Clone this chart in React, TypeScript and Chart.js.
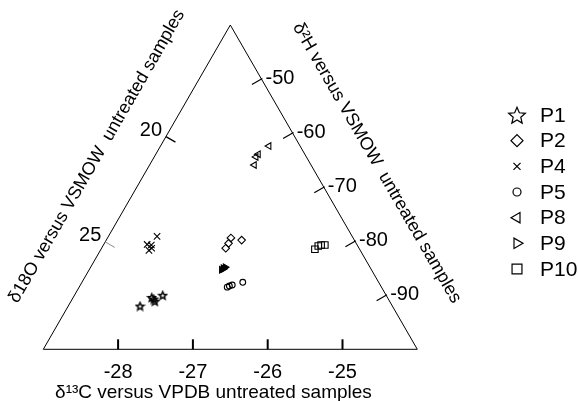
import React, { useEffect, useRef } from 'react';
import { Chart, registerables } from 'chart.js';
import { drawPoint } from 'chart.js/helpers';

Chart.register(...registerables);

// ---- axis ranges & ticks ----
const C13_MIN = -29; // bottom-left vertex
const C13_MAX = -24; // bottom-right vertex
const H2_MIN = -100; // bottom-right vertex
const H2_MAX = -40; // apex
const O18_TOP = 14.7; // apex
const O18_BOTTOM = 30.1; // bottom-left vertex
const C13_TICKS = [-28, -27, -26, -25];
const H2_TICKS = [-50, -60, -70, -80, -90];
const O18_TICKS = [20, 25];

const TITLE_C13 = 'δ¹³C versus VPDB untreated samples';
const TITLE_O18 = 'δ18O versus VSMOW  untreated samples';
const TITLE_H2 = 'δ²H versus VSMOW  untreated samples';

// ---- data (δ13C, δ2H) per sample group ----
const SERIES_NAMES = ['P1', 'P2', 'P4', 'P5', 'P8', 'P9', 'P10'];
const P1_C13 = [-28.04, -27.95, -27.88, -27.82, -27.91];
const P1_H2 = [-92.0, -90.4, -91.1, -90.0, -90.7];
const P2_C13 = [-27.35, -27.19, -27.34, -27.34];
const P2_H2 = [-79.4, -79.8, -80.4, -81.3];
const P4_C13 = [-28.35, -28.42, -28.36, -28.33, -28.35];
const P4_H2 = [-79.1, -80.6, -80.7, -81.3, -81.7];
const P5_C13 = [-27.02, -27.0, -26.97, -26.85];
const P5_H2 = [-88.5, -88.3, -88.1, -87.6];
const P8_C13 = [-27.55, -27.63, -27.64, -27.6];
const P8_H2 = [-62.4, -63.9, -64.4, -65.9];
const P9_C13 = [-27.22, -27.2, -27.23, -27.21];
const P9_H2 = [-85.0, -84.8, -85.3, -85.1];
const P10_C13 = [-26.14, -26.12, -26.09, -26.04];
const P10_H2 = [-81.5, -80.9, -80.7, -80.7];

const FONT = "'Liberation Sans', Arial, Helvetica, sans-serif";

function toXY(c13: number, h2: number) {
  const b = (h2 - H2_MIN) / (H2_MAX - H2_MIN);
  return { x: c13 + ((C13_MAX - C13_MIN) / 2) * b, y: h2 };
}

function makeStar(size: number, lw: number) {
  const c = document.createElement('canvas');
  c.width = size;
  c.height = size;
  const ctx = c.getContext('2d')!;
  const cx = size / 2;
  const cy = size / 2 + size * 0.05;
  const R = size / 2 - lw;
  const r = R * 0.45;
  ctx.beginPath();
  for (let i = 0; i < 10; i++) {
    const ang = -Math.PI / 2 + (i * Math.PI) / 5;
    const rr = i % 2 === 0 ? R : r;
    ctx.lineTo(cx + rr * Math.cos(ang), cy + rr * Math.sin(ang));
  }
  ctx.closePath();
  ctx.lineWidth = lw;
  ctx.strokeStyle = '#000';
  ctx.lineJoin = 'miter';
  ctx.stroke();
  return c;
}

export default function App() {
  const ref = useRef<HTMLCanvasElement>(null);

  useEffect(() => {
    const canvas = ref.current!;
    const starSmall = makeStar(11, 1.5);
    const starLarge = makeStar(20, 1.2);

    const raw: [number[], number[]][] = [
      [P1_C13, P1_H2],
      [P2_C13, P2_H2],
      [P4_C13, P4_H2],
      [P5_C13, P5_H2],
      [P8_C13, P8_H2],
      [P9_C13, P9_H2],
      [P10_C13, P10_H2],
    ];
    const styles: any[] = [
      { pointStyle: starSmall, radius: 5, rotation: 0, fill: 'rgba(0,0,0,0)', legendStyle: starLarge, legendRadius: 9, legendRotation: 0 },
      { pointStyle: 'rectRot', radius: 3.8, rotation: 0, fill: 'rgba(0,0,0,0)', legendStyle: 'rectRot', legendRadius: 6, legendRotation: 0 },
      { pointStyle: 'crossRot', radius: 4.5, rotation: 0, fill: 'rgba(0,0,0,0)', legendStyle: 'crossRot', legendRadius: 5, legendRotation: 0 },
      { pointStyle: 'circle', radius: 2.9, rotation: 0, fill: 'rgba(0,0,0,0)', legendStyle: 'circle', legendRadius: 4, legendRotation: 0 },
      { pointStyle: 'triangle', radius: 3.8, rotation: -90, fill: 'rgba(0,0,0,0)', legendStyle: 'triangle', legendRadius: 6, legendRotation: -90 },
      { pointStyle: 'triangle', radius: 3.8, rotation: 90, fill: '#000', legendStyle: 'triangle', legendRadius: 6, legendRotation: 90 },
      { pointStyle: 'rect', radius: 4.6, rotation: 0, fill: 'rgba(0,0,0,0)', legendStyle: 'rect', legendRadius: 7, legendRotation: 0 },
    ];

    const datasets = SERIES_NAMES.map((name, i) => ({
      label: name,
      data: raw[i][0].map((c, j) => toXY(c, raw[i][1][j])),
      pointStyle: styles[i].pointStyle,
      pointRadius: styles[i].radius,
      pointRotation: styles[i].rotation,
      pointBorderWidth: 1.1,
      borderColor: '#000',
      backgroundColor: styles[i].fill,
      showLine: false,
    }));

    const ternaryPlugin = {
      id: 'ternary',
      afterDraw(chart: any) {
        const { ctx } = chart;
        const xs = chart.scales.x;
        const ys = chart.scales.y;
        const BL = { x: xs.getPixelForValue(C13_MIN), y: ys.getPixelForValue(H2_MIN) };
        const BR = { x: xs.getPixelForValue(C13_MAX), y: ys.getPixelForValue(H2_MIN) };
        const AP = { x: xs.getPixelForValue((C13_MIN + C13_MAX) / 2), y: ys.getPixelForValue(H2_MAX) };
        ctx.save();
        ctx.strokeStyle = '#000';
        ctx.fillStyle = '#000';
        // triangle
        ctx.lineWidth = 1;
        ctx.beginPath();
        ctx.moveTo(BL.x, BL.y);
        ctx.lineTo(BR.x, BR.y);
        ctx.lineTo(AP.x, AP.y);
        ctx.closePath();
        ctx.stroke();

        ctx.font = `20px ${FONT}`;
        ctx.textAlign = 'center';
        ctx.textBaseline = 'middle';

        // bottom axis ticks (δ13C)
        ctx.lineWidth = 2;
        C13_TICKS.forEach((v) => {
          const x = xs.getPixelForValue(v);
          ctx.beginPath();
          ctx.moveTo(x, BL.y);
          ctx.lineTo(x, BL.y - 10);
          ctx.stroke();
          ctx.fillText(String(v), x, BL.y + 23.5);
        });

        // right axis ticks (δ2H) along apex -> BR
        const rlen = Math.hypot(BR.x - AP.x, BR.y - AP.y);
        const rdir = { x: (BR.x - AP.x) / rlen, y: (BR.y - AP.y) / rlen };
        const rin = { x: -rdir.y, y: rdir.x }; // inward normal
        ctx.lineWidth = 1.2;
        H2_TICKS.forEach((v) => {
          const y = ys.getPixelForValue(v);
          const t = (AP.y - y) / (AP.y - BR.y);
          const px = AP.x + (BR.x - AP.x) * t;
          const py = y;
          ctx.beginPath();
          ctx.moveTo(px - rin.x * 1, py - rin.y * 1);
          ctx.lineTo(px + rin.x * 11, py + rin.y * 11);
          ctx.stroke();
          ctx.fillText(String(v), px + 18.5, py - 1);
        });

        // left axis ticks (δ18O) along apex -> BL
        const llen = Math.hypot(BL.x - AP.x, BL.y - AP.y);
        const ldir = { x: (BL.x - AP.x) / llen, y: (BL.y - AP.y) / llen };
        const lin = { x: ldir.y, y: -ldir.x }; // inward normal
        O18_TICKS.forEach((v, k) => {
          const t = (v - O18_TOP) / (O18_BOTTOM - O18_TOP);
          const px = AP.x + (BL.x - AP.x) * t;
          const py = AP.y + (BL.y - AP.y) * t;
          ctx.strokeStyle = k === 0 ? '#000' : '#8a8a8a';
          ctx.lineWidth = k === 0 ? 1.3 : 1;
          ctx.beginPath();
          ctx.moveTo(px, py);
          ctx.lineTo(px + lin.x * 11, py + lin.y * 11);
          ctx.stroke();
          ctx.fillText(String(v), px - 15, py - 6);
        });
        ctx.strokeStyle = '#000';

        // titles
        ctx.font = `19px ${FONT}`;
        ctx.fillText(TITLE_C13, BL.x + (BR.x - BL.x) * 0.455, BL.y + 43);

        ctx.font = `18px ${FONT}`;
        // left title
        {
          const d = { x: (AP.x - BL.x) / llen, y: (AP.y - BL.y) / llen };
          const n = { x: d.y, y: -d.x };
          const cx = BL.x + (AP.x - BL.x) * 0.518 + n.x * 50;
          const cy = BL.y + (AP.y - BL.y) * 0.518 + n.y * 50;
          ctx.save();
          ctx.translate(cx, cy);
          ctx.rotate(Math.atan2(d.y, d.x));
          ctx.fillText(TITLE_O18, 0, 0);
          ctx.restore();
        }
        // right title
        {
          const d = rdir;
          const n = { x: d.y, y: -d.x };
          const cx = AP.x + (BR.x - AP.x) * 0.515 + n.x * 58;
          const cy = AP.y + (BR.y - AP.y) * 0.515 + n.y * 58;
          ctx.save();
          ctx.translate(cx, cy);
          ctx.rotate(Math.atan2(d.y, d.x));
          ctx.fillText(TITLE_H2, 0, 0);
          ctx.restore();
        }

        // legend
        ctx.font = `21px ${FONT}`;
        ctx.textAlign = 'left';
        SERIES_NAMES.forEach((name, i) => {
          const y = 115 + i * 25.67;
          ctx.save();
          ctx.strokeStyle = '#000';
          ctx.fillStyle = 'rgba(0,0,0,0)';
          ctx.lineWidth = 1.2;
          drawPoint(
            ctx,
            {
              pointStyle: styles[i].legendStyle,
              radius: styles[i].legendRadius,
              rotation: styles[i].legendRotation,
              borderWidth: 1.2,
            } as any,
            517,
            y
          );
          ctx.restore();
          ctx.fillStyle = '#000';
          ctx.fillText(name, 540, y + 1);
        });
        ctx.restore();
      },
    };

    const chart = new Chart(canvas, {
      type: 'scatter',
      data: { datasets: datasets as any },
      options: {
        animation: false,
        responsive: false,
        maintainAspectRatio: false,
        events: [],
        layout: { padding: { left: 43.3, right: 578 - 417.3, top: 25, bottom: 401 - 349.3 } },
        scales: {
          x: { type: 'linear', min: C13_MIN, max: C13_MAX, display: false },
          y: { type: 'linear', min: H2_MIN, max: H2_MAX, display: false },
        },
        plugins: { legend: { display: false }, tooltip: { enabled: false } },
      },
      plugins: [ternaryPlugin],
    });
    return () => chart.destroy();
  }, []);

  return (
    <div style={{ position: 'fixed', left: 0, top: 0, width: 578, height: 401, background: '#fff' }}>
      <canvas ref={ref} width={578} height={401} style={{ display: 'block' }} />
    </div>
  );
}
